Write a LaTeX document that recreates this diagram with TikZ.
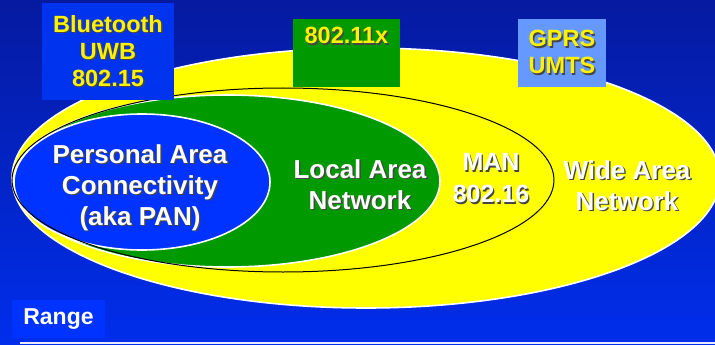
\documentclass[tikz,border=0pt]{standalone}
\usepackage{fontspec}
\setmainfont{Liberation Sans}
\usetikzlibrary{positioning,shapes.geometric}
\definecolor{bgtop}{RGB}{6,26,160}
\definecolor{bgbot}{RGB}{0,46,235}
\definecolor{panblue}{RGB}{0,51,255}
\definecolor{boxblue}{RGB}{0,51,238}
\definecolor{langreen}{RGB}{0,153,0}
\definecolor{gprsblue}{RGB}{102,153,255}
\definecolor{wanyellow}{RGB}{255,255,0}
\definecolor{shadowc}{RGB}{70,70,70}
\newcommand\shd[1]{\leavevmode\rlap{\kern1.4pt\raisebox{-1.4pt}{\color{shadowc}#1}}#1}
\tikzset{
	every node/.style = {font=\bfseries, inner sep=0},
	every text node part/.style={align=center},
	area/.style={ellipse, draw=white, line width=1.6pt, inner sep=0},
	tagbox/.style={rectangle, text=yellow, font=\bfseries\fontsize{23.5}{27}\selectfont},
	inlabel/.style={text=white, font=\bfseries\fontsize{26}{31}\selectfont}
}

\begin{document}
\begin{tikzpicture}[x=1pt,y=-1pt]
		\useasboundingbox (0,0) rectangle (715,345);
		\shade[top color=bgtop, bottom color=bgbot] (0,0) rectangle (715,345);

		% nested ranges
		\node(wan)[area, fill=wanyellow, minimum width=708, minimum height=260] at (366,178) {};
		\node(lan)[area, fill=langreen, minimum width=426, minimum height=172] at (227,181) {};
		\node(pan)[area, fill=panblue, minimum width=256, minimum height=136] at (142,182) {};
		\node(man)[ellipse, draw=black, line width=1pt, minimum width=542, minimum height=184] at (283,180) {};

		\node(bt)[tagbox, fill=boxblue, minimum width=132, minimum height=97] at (108,51.5) {\shd{Bluetooth}\\\shd{UWB}\\\shd{802.15}};
		\node(wifi)[tagbox, fill=langreen, minimum width=107, minimum height=68] at (346.5,53) {\shd{802.11x}\\\strut};
		\node(cell)[tagbox, fill=gprsblue, minimum width=88, minimum height=68] at (562,53) {\shd{GPRS}\\\shd{UMTS}};

		\node(pantext)[inlabel] at (140,188) {\shd{Personal Area}\\\shd{Connectivity}\\\shd{(aka PAN)}};
		\node(lantext)[inlabel] at (360,185) {\shd{Local Area}\\\shd{Network}};
		\node(mantext)[inlabel, font=\bfseries\fontsize{25}{32}\selectfont] at (491,179) {\shd{MAN}\\\shd{802.16}};
		\node(wantext)[inlabel] at (627,186) {\shd{Wide Area}\\\shd{Network}};

		\node(range)[fill=panblue, text=white, font=\bfseries\fontsize{23}{26}\selectfont, minimum width=93, minimum height=38] at (58.5,319) {Range};
		\coordinate(rulestart) at (20,343);
		\coordinate(ruleend) at (715,343);
		\draw[white!92!blue, line width=1.6pt] (rulestart) -- (ruleend);
\end{tikzpicture}
\end{document}
